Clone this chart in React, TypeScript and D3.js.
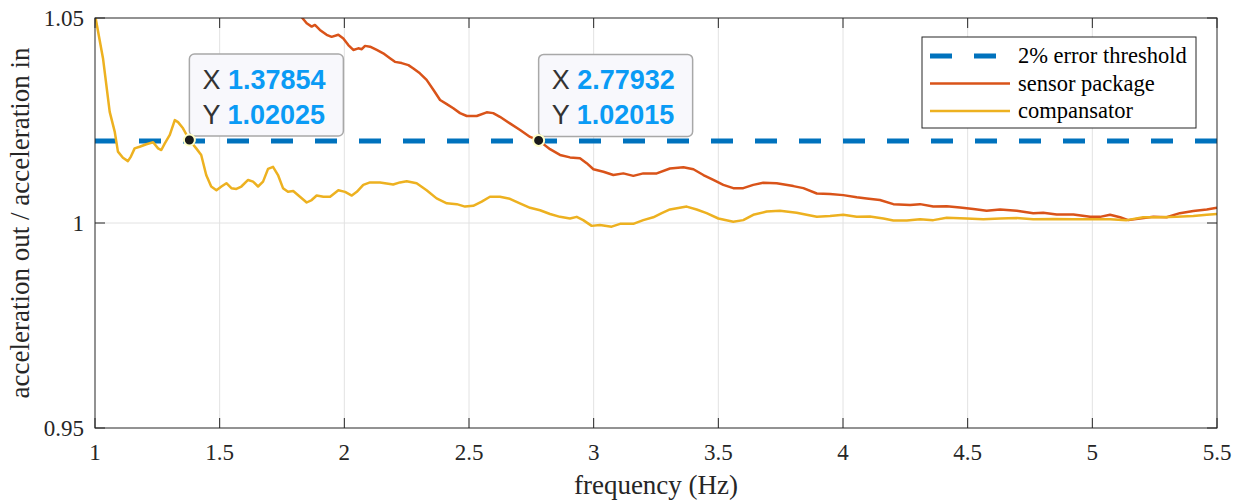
import React, { useEffect, useRef } from 'react';
import * as d3 from 'd3';

const W = 1240, H = 500;
const margin = { top: 18, right: 23, bottom: 72, left: 95 };

const xTicks = [1, 1.5, 2, 2.5, 3, 3.5, 4, 4.5, 5, 5.5];
const yTicks = [0.95, 1, 1.05];
const threshold = 1.02;

// compensator (yellow)
const compF = [1.0, 1.032, 1.059, 1.079, 1.092, 1.112, 1.132, 1.144, 1.159, 1.179, 1.206, 1.233, 1.253, 1.266, 1.28, 1.3, 1.32, 1.333, 1.353, 1.3785, 1.406, 1.426, 1.446, 1.466, 1.487, 1.507, 1.527, 1.547, 1.567, 1.587, 1.614, 1.634, 1.654, 1.674, 1.694, 1.714, 1.734, 1.754, 1.774, 1.795, 1.822, 1.849, 1.869, 1.889, 1.916, 1.943, 1.976, 2.003, 2.03, 2.05, 2.076, 2.103, 2.143, 2.196, 2.223, 2.25, 2.29, 2.33, 2.37, 2.411, 2.451, 2.484, 2.517, 2.551, 2.584, 2.624, 2.664, 2.704, 2.745, 2.785, 2.825, 2.865, 2.905, 2.932, 2.958, 2.992, 3.025, 3.072, 3.106, 3.159, 3.199, 3.239, 3.273, 3.306, 3.373, 3.413, 3.453, 3.5, 3.56, 3.6, 3.64, 3.694, 3.747, 3.814, 3.854, 3.895, 3.948, 4.001, 4.055, 4.108, 4.162, 4.202, 4.256, 4.309, 4.362, 4.416, 4.496, 4.563, 4.63, 4.697, 4.763, 4.844, 4.924, 5.004, 5.071, 5.138, 5.204, 5.271, 5.338, 5.405, 5.459, 5.5];
const compV = [1.0508, 1.0402, 1.0271, 1.0223, 1.0174, 1.0159, 1.0151, 1.0162, 1.0182, 1.0186, 1.0192, 1.0197, 1.0182, 1.0178, 1.0194, 1.0215, 1.0251, 1.0246, 1.0231, 1.02025, 1.0182, 1.0166, 1.0117, 1.0089, 1.008, 1.0089, 1.0097, 1.0085, 1.0083, 1.0089, 1.0105, 1.0101, 1.0089, 1.0101, 1.0132, 1.0137, 1.0117, 1.0085, 1.0076, 1.0078, 1.0064, 1.005, 1.0056, 1.0067, 1.0064, 1.0064, 1.008, 1.0076, 1.0067, 1.0076, 1.0093, 1.0099, 1.0099, 1.0094, 1.0099, 1.0102, 1.0097, 1.008, 1.006, 1.0048, 1.0046, 1.004, 1.0042, 1.0052, 1.0064, 1.0064, 1.0059, 1.0048, 1.0037, 1.0031, 1.0022, 1.0015, 1.0011, 1.0015, 1.0007, 0.9993, 0.9995, 0.9991, 0.9998, 0.9998, 1.0007, 1.0014, 1.0024, 1.0033, 1.004, 1.0033, 1.0024, 1.0011, 1.0003, 1.0007, 1.002, 1.0028, 1.003, 1.0025, 1.002, 1.0015, 1.0017, 1.002, 1.0015, 1.0016, 1.0011, 1.0006, 1.0006, 1.0009, 1.0007, 1.0013, 1.0011, 1.0009, 1.0011, 1.0012, 1.0009, 1.001, 1.0009, 1.0009, 1.0009, 1.0007, 1.0014, 1.0014, 1.0015, 1.0017, 1.002, 1.0022];

// sensor package (red)
const sensF = [1.806, 1.829, 1.849, 1.869, 1.882, 1.902, 1.929, 1.949, 1.976, 1.996, 2.016, 2.036, 2.056, 2.07, 2.083, 2.103, 2.13, 2.156, 2.183, 2.203, 2.23, 2.257, 2.277, 2.303, 2.33, 2.357, 2.384, 2.411, 2.437, 2.464, 2.491, 2.531, 2.571, 2.597, 2.624, 2.664, 2.705, 2.745, 2.7793, 2.825, 2.865, 2.905, 2.945, 2.972, 2.999, 3.039, 3.079, 3.119, 3.159, 3.199, 3.253, 3.306, 3.36, 3.4, 3.44, 3.48, 3.52, 3.56, 3.6, 3.64, 3.68, 3.734, 3.801, 3.841, 3.895, 3.948, 4.001, 4.055, 4.095, 4.148, 4.202, 4.269, 4.309, 4.362, 4.416, 4.469, 4.523, 4.576, 4.63, 4.697, 4.763, 4.803, 4.857, 4.924, 4.991, 5.031, 5.071, 5.111, 5.144, 5.191, 5.245, 5.298, 5.351, 5.405, 5.459, 5.5];
const sensV = [1.0512, 1.0502, 1.0487, 1.0479, 1.0483, 1.0471, 1.0459, 1.0454, 1.0459, 1.045, 1.0434, 1.0422, 1.0426, 1.0424, 1.0432, 1.043, 1.0422, 1.0414, 1.0402, 1.0393, 1.039, 1.0385, 1.0377, 1.0365, 1.0349, 1.0325, 1.03, 1.029, 1.028, 1.0268, 1.0261, 1.0261, 1.027, 1.0268, 1.0259, 1.0243, 1.0227, 1.021, 1.02015, 1.018, 1.0166, 1.016, 1.0158, 1.0146, 1.0131, 1.0125, 1.0117, 1.0121, 1.0115, 1.0121, 1.0121, 1.0133, 1.0136, 1.0131, 1.0117, 1.0105, 1.0093, 1.0085, 1.0085, 1.0093, 1.0098, 1.0097, 1.009, 1.0085, 1.0072, 1.0071, 1.0068, 1.0063, 1.006, 1.0056, 1.0046, 1.0044, 1.0046, 1.004, 1.0041, 1.0038, 1.0034, 1.003, 1.0033, 1.003, 1.0024, 1.0025, 1.0021, 1.0021, 1.0015, 1.0015, 1.002, 1.0014, 1.0007, 1.0011, 1.0015, 1.0014, 1.0024, 1.0029, 1.0033, 1.0037];

const tipX = [1.37854, 2.77932];
const tipY = [1.02025, 1.02015];

const legendLabels = ['2% error threshold', 'sensor package', 'compansator'];
const BLUE = '#0072BD', RED = '#D95319', YELLOW = '#EDB120';

const App = () => {
  const ref = useRef<SVGSVGElement>(null);

  useEffect(() => {
    const svg = d3.select(ref.current);
    svg.selectAll('*').remove();

    const iw = W - margin.left - margin.right;
    const ih = H - margin.top - margin.bottom;
    const x = d3.scaleLinear().domain([1, 5.5]).range([0, iw]);
    const y = d3.scaleLinear().domain([0.95, 1.05]).range([ih, 0]);

    const g = svg.append('g').attr('transform', `translate(${margin.left},${margin.top})`);
    const serif = '"Liberation Serif", "Times New Roman", serif';

    g.append('defs').append('clipPath').attr('id', 'plotclip')
      .append('rect').attr('width', iw).attr('height', ih);

    // grid
    g.selectAll('.gx').data(xTicks.slice(1, -1)).enter().append('line')
      .attr('x1', d => x(d)).attr('x2', d => x(d)).attr('y1', 0).attr('y2', ih)
      .attr('stroke', '#e2e2e2').attr('stroke-width', 1);
    g.append('line').attr('x1', 0).attr('x2', iw).attr('y1', y(1)).attr('y2', y(1))
      .attr('stroke', '#e2e2e2').attr('stroke-width', 1);

    const plot = g.append('g').attr('clip-path', 'url(#plotclip)');
    const line = d3.line<[number, number]>().x(d => x(d[0])).y(d => y(d[1]));

    plot.append('line').attr('x1', 0).attr('x2', iw).attr('y1', y(threshold)).attr('y2', y(threshold))
      .attr('stroke', BLUE).attr('stroke-width', 5).attr('stroke-dasharray', '22,22');
    plot.append('path').attr('d', line(sensF.map((f, i) => [f, sensV[i]]) as [number, number][]))
      .attr('fill', 'none').attr('stroke', RED).attr('stroke-width', 2.5).attr('stroke-linejoin', 'round');
    plot.append('path').attr('d', line(compF.map((f, i) => [f, compV[i]]) as [number, number][]))
      .attr('fill', 'none').attr('stroke', YELLOW).attr('stroke-width', 2.5).attr('stroke-linejoin', 'round');

    // axes box and inward ticks
    const axc = '#262626';
    g.append('rect').attr('width', iw).attr('height', ih).attr('fill', 'none').attr('stroke', axc).attr('stroke-width', 1);
    const tl = 10;
    xTicks.forEach(t => {
      g.append('line').attr('x1', x(t)).attr('x2', x(t)).attr('y1', ih).attr('y2', ih - tl).attr('stroke', axc);
      g.append('line').attr('x1', x(t)).attr('x2', x(t)).attr('y1', 0).attr('y2', tl).attr('stroke', axc);
      g.append('text').attr('x', x(t)).attr('y', ih + 32).attr('text-anchor', 'middle')
        .attr('font-family', serif).attr('font-size', 23).attr('fill', axc).text(String(t));
    });
    yTicks.forEach(t => {
      g.append('line').attr('x1', 0).attr('x2', tl).attr('y1', y(t)).attr('y2', y(t)).attr('stroke', axc);
      g.append('line').attr('x1', iw).attr('x2', iw - tl).attr('y1', y(t)).attr('y2', y(t)).attr('stroke', axc);
      g.append('text').attr('x', -11).attr('y', y(t) + 8).attr('text-anchor', 'end')
        .attr('font-family', serif).attr('font-size', 23).attr('fill', axc).text(String(t));
    });

    g.append('text').attr('x', iw / 2).attr('y', ih + 66).attr('text-anchor', 'middle')
      .attr('font-family', serif).attr('font-size', 27).attr('fill', axc).text('frequency (Hz)');
    g.append('text').attr('transform', `translate(${-66},${ih / 2}) rotate(-90)`).attr('text-anchor', 'middle')
      .attr('font-family', serif).attr('font-size', 27).attr('fill', axc).text('acceleration out / acceleration in');

    // legend
    const lg = g.append('g').attr('transform', `translate(${iw - 295},${19})`);
    lg.append('rect').attr('width', 274).attr('height', 91).attr('fill', '#fff').attr('stroke', axc).attr('stroke-width', 1);
    const styles = [
      { c: BLUE, w: 5, dash: '22,22' },
      { c: RED, w: 2.5, dash: null },
      { c: YELLOW, w: 2.5, dash: null },
    ];
    legendLabels.forEach((lab, i) => {
      const ly = 19 + i * 27.5;
      const ln = lg.append('line').attr('x1', 8).attr('x2', 88).attr('y1', ly).attr('y2', ly)
        .attr('stroke', styles[i].c).attr('stroke-width', styles[i].w);
      if (styles[i].dash) ln.attr('stroke-dasharray', styles[i].dash);
      lg.append('text').attr('x', 96).attr('y', ly + 7).attr('font-family', serif).attr('font-size', 22.5)
        .attr('fill', '#000').text(lab);
    });

    // datatips
    const sans = '"Liberation Sans", Arial, sans-serif';
    tipX.forEach((tx, i) => {
      const px = x(tx), py = y(tipY[i]);
      const bx = px, by = py - 86;
      const tg = g.append('g').attr('transform', `translate(${bx},${by})`);
      tg.append('rect').attr('width', 154).attr('height', 82).attr('rx', 5)
        .attr('fill', '#f8f8fc').attr('stroke', '#a8a8a8').attr('stroke-width', 1.5);
      [['X', tx.toFixed(5)], ['Y', tipY[i].toFixed(5)]].forEach(([k, v], j) => {
        const t = tg.append('text').attr('x', 13).attr('y', 35 + j * 35).attr('font-family', sans).attr('font-size', 27);
        t.append('tspan').attr('fill', '#333').text(k + ' ');
        t.append('tspan').attr('fill', '#0a9bf5').attr('font-weight', 'bold').text(v);
      });
      g.append('circle').attr('cx', px).attr('cy', py).attr('r', 5.5)
        .attr('fill', '#1a1a1a').attr('stroke', '#ffffc8').attr('stroke-width', 2);
    });
  }, []);

  return (
    <div style={{ position: 'absolute', left: 0, top: 0 }}>
      <svg ref={ref} width={W} height={H} style={{ display: 'block', background: '#fff' }} />
    </div>
  );
};

export default App;
